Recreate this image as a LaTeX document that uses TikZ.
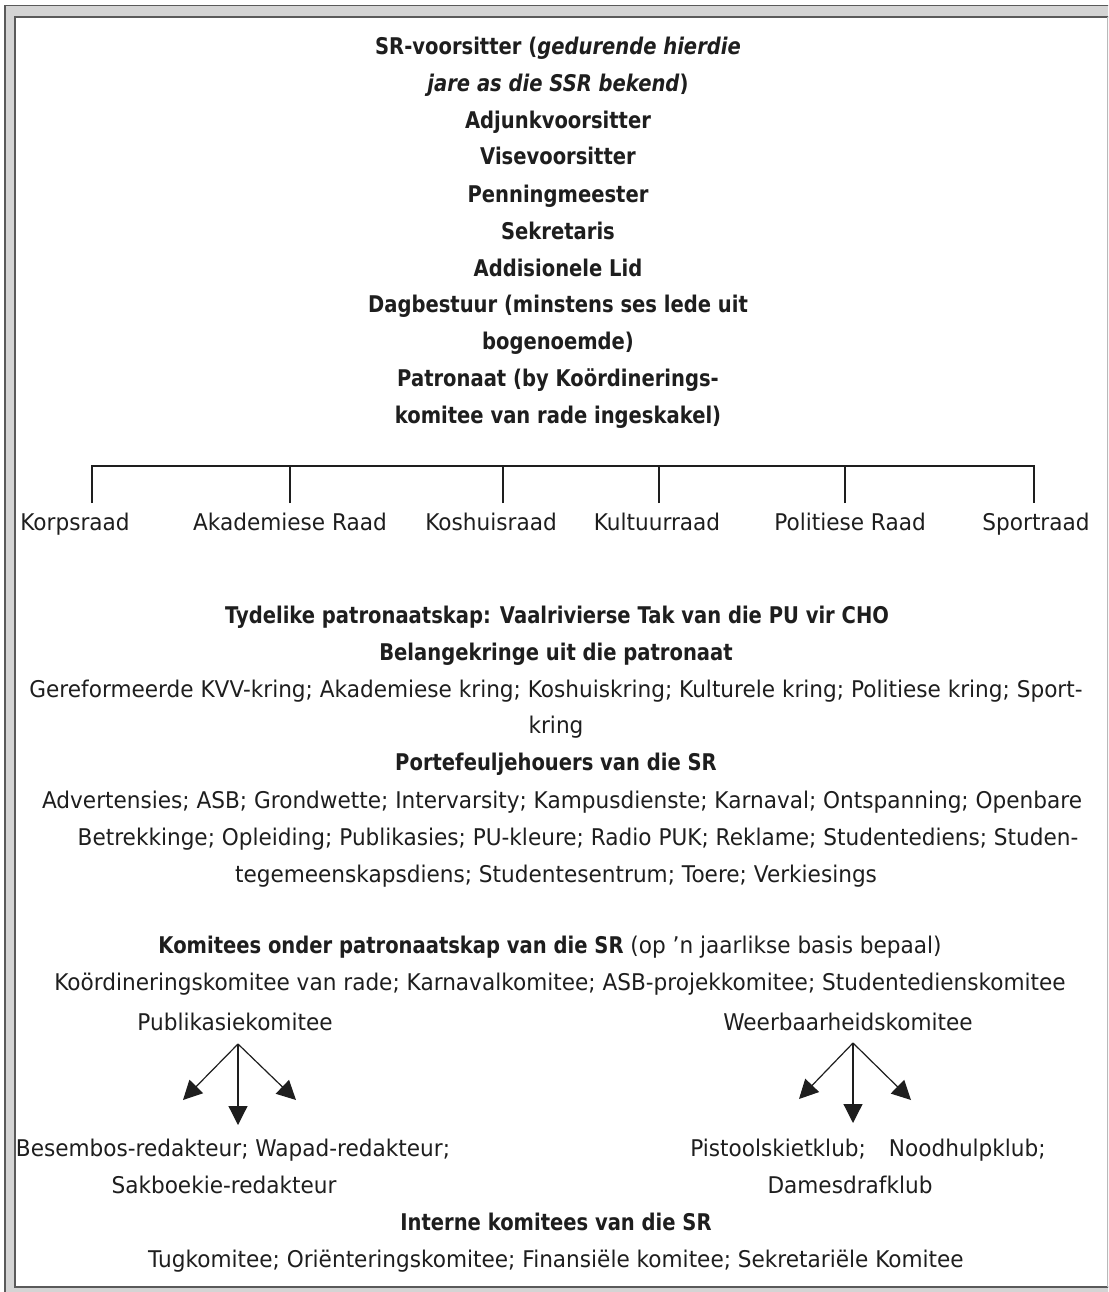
\documentclass[tikz,border=0pt]{standalone}
\usepackage{fontspec}
\setmainfont{DejaVu Sans}[FakeStretch=0.94, BoldFeatures={FakeStretch=0.85}, BoldItalicFeatures={FakeStretch=0.85}]
\usetikzlibrary{arrows.meta}
\definecolor{band}{HTML}{D4D4D4}
\definecolor{frameline}{HTML}{5A5A5A}
\definecolor{ink}{HTML}{1E1E1E}

\begin{document}
\begin{tikzpicture}[x=1pt, y=-1pt,
    every node/.style={inner sep=0pt, anchor=base, text=ink, font=\fontsize{23}{28}\selectfont},
    hd/.style={font=\fontsize{23}{28}\selectfont\bfseries},
    link/.style={draw=ink, line width=1.5pt},
    arr/.style={draw=ink, line width=1.2pt, -{Triangle[length=19pt,width=19pt]}}]
\useasboundingbox (0,0) rectangle (1108,1292);
\begin{scope}
    \clip (0,0) rectangle (1108,1292);
    \draw[frameline, fill=band, line width=1.3pt] (5,5.5) rectangle (1130,1310);
    \fill[white] (15,17) rectangle (1107,1287);
    \draw[frameline, line width=2pt] (1130,17) -- (15,17) -- (15,1287) -- (1130,1287);
    \draw[gray!55, line width=1pt] (1107,17) -- (1107,1287);
\end{scope}

\node[hd] (voorsitter) at (558,55) {SR-voorsitter (\textit{gedurende hierdie}};
\node[hd] (voorsitter2) at (558,92) {\textit{jare as die SSR bekend})};
\node[hd] (adjunk) at (558,129) {Adjunkvoorsitter};
\node[hd] (vise) at (558,165) {Visevoorsitter};
\node[hd] (penning) at (558,202) {Penningmeester};
\node[hd] (sekretaris) at (558,239) {Sekretaris};
\node[hd] (addisioneel) at (558,276) {Addisionele Lid};
\node[hd] (dagbestuur) at (558,312) {Dagbestuur (minstens ses lede uit};
\node[hd] (dagbestuur2) at (558,349) {bogenoemde)};
\node[hd] (patronaat) at (558,386) {Patronaat (by Koördinerings-};
\node[hd] (patronaat2) at (558,423) {komitee van rade ingeskakel)};

\node (korps) at (75,530) {Korpsraad};
\node (akademies) at (290,530) {Akademiese Raad};
\node (koshuis) at (491,530) {Koshuisraad};
\node (kultuur) at (657,530) {Kultuurraad};
\node (polities) at (850,530) {Politiese Raad};
\node (sport) at (1036,530) {Sportraad};

\coordinate (bar) at (0,466);
\coordinate (k1) at (92,503);
\coordinate (k2) at (290,503);
\coordinate (k3) at (503,503);
\coordinate (k4) at (659,503);
\coordinate (k5) at (845,503);
\coordinate (k6) at (1034,503);
\draw[link] (k1) |- (bar -| k6) -- (k6);
\foreach \k in {k2,k3,k4,k5}
    \draw[link] (\k) -- (\k |- bar);

\node[hd] (tydelik) at (557,623) {Tydelike patronaatskap: Vaalrivierse Tak van die PU vir CHO};
\node[hd] (kringe) at (556,660) {Belangekringe uit die patronaat};
\node (kringe1) at (556,697) {Gereformeerde KVV-kring; Akademiese kring; Koshuiskring; Kulturele kring; Politiese kring; Sport-};
\node (kringe2) at (556,733) {kring};
\node[hd] (portefeulje) at (556,770) {Portefeuljehouers van die SR};
\node (portefeulje1) at (562,808) {Advertensies; ASB; Grondwette; Intervarsity; Kampusdienste; Karnaval; Ontspanning; Openbare};
\node (portefeulje2) at (578,845) {Betrekkinge; Opleiding; Publikasies; PU-kleure; Radio PUK; Reklame; Studentediens; Studen-};
\node (portefeulje3) at (556,882) {tegemeenskapsdiens; Studentesentrum; Toere; Verkiesings};

\node (komitees) at (550,953) {\textbf{Komitees onder patronaatskap van die SR} (op ’n jaarlikse basis bepaal)};
\node (komitees1) at (560,990) {Koördineringskomitee van rade; Karnavalkomitee; ASB-projekkomitee; Studentedienskomitee};
\node (publikasie) at (235,1030) {Publikasiekomitee};
\node (weerbaar) at (848,1030) {Weerbaarheidskomitee};

\coordinate (pubfork) at (238,1044);
\coordinate (publ) at (183,1100);
\coordinate (pubm) at (238,1125);
\coordinate (pubr) at (296,1100);
\draw[arr] (pubfork) -- (publ);
\draw[arr] (pubfork) -- (pubm);
\draw[arr] (pubfork) -- (pubr);

\coordinate (weerfork) at (853,1043);
\coordinate (weerl) at (799,1099);
\coordinate (weerm) at (853,1123);
\coordinate (weerr) at (911,1100);
\draw[arr] (weerfork) -- (weerl);
\draw[arr] (weerfork) -- (weerm);
\draw[arr] (weerfork) -- (weerr);

\node (redakteurs) at (233,1156) {Besembos-redakteur; Wapad-redakteur;};
\node (redakteurs2) at (224,1193) {Sakboekie-redakteur};
\node (klubs) at (868,1156) {Pistoolskietklub;\quad Noodhulpklub;};
\node (klubs2) at (850,1193) {Damesdrafklub};

\node[hd] (intern) at (556,1230) {Interne komitees van die SR};
\node (intern1) at (556,1267) {Tugkomitee; Oriënteringskomitee; Finansiële komitee; Sekretariële Komitee};
\end{tikzpicture}
\end{document}
